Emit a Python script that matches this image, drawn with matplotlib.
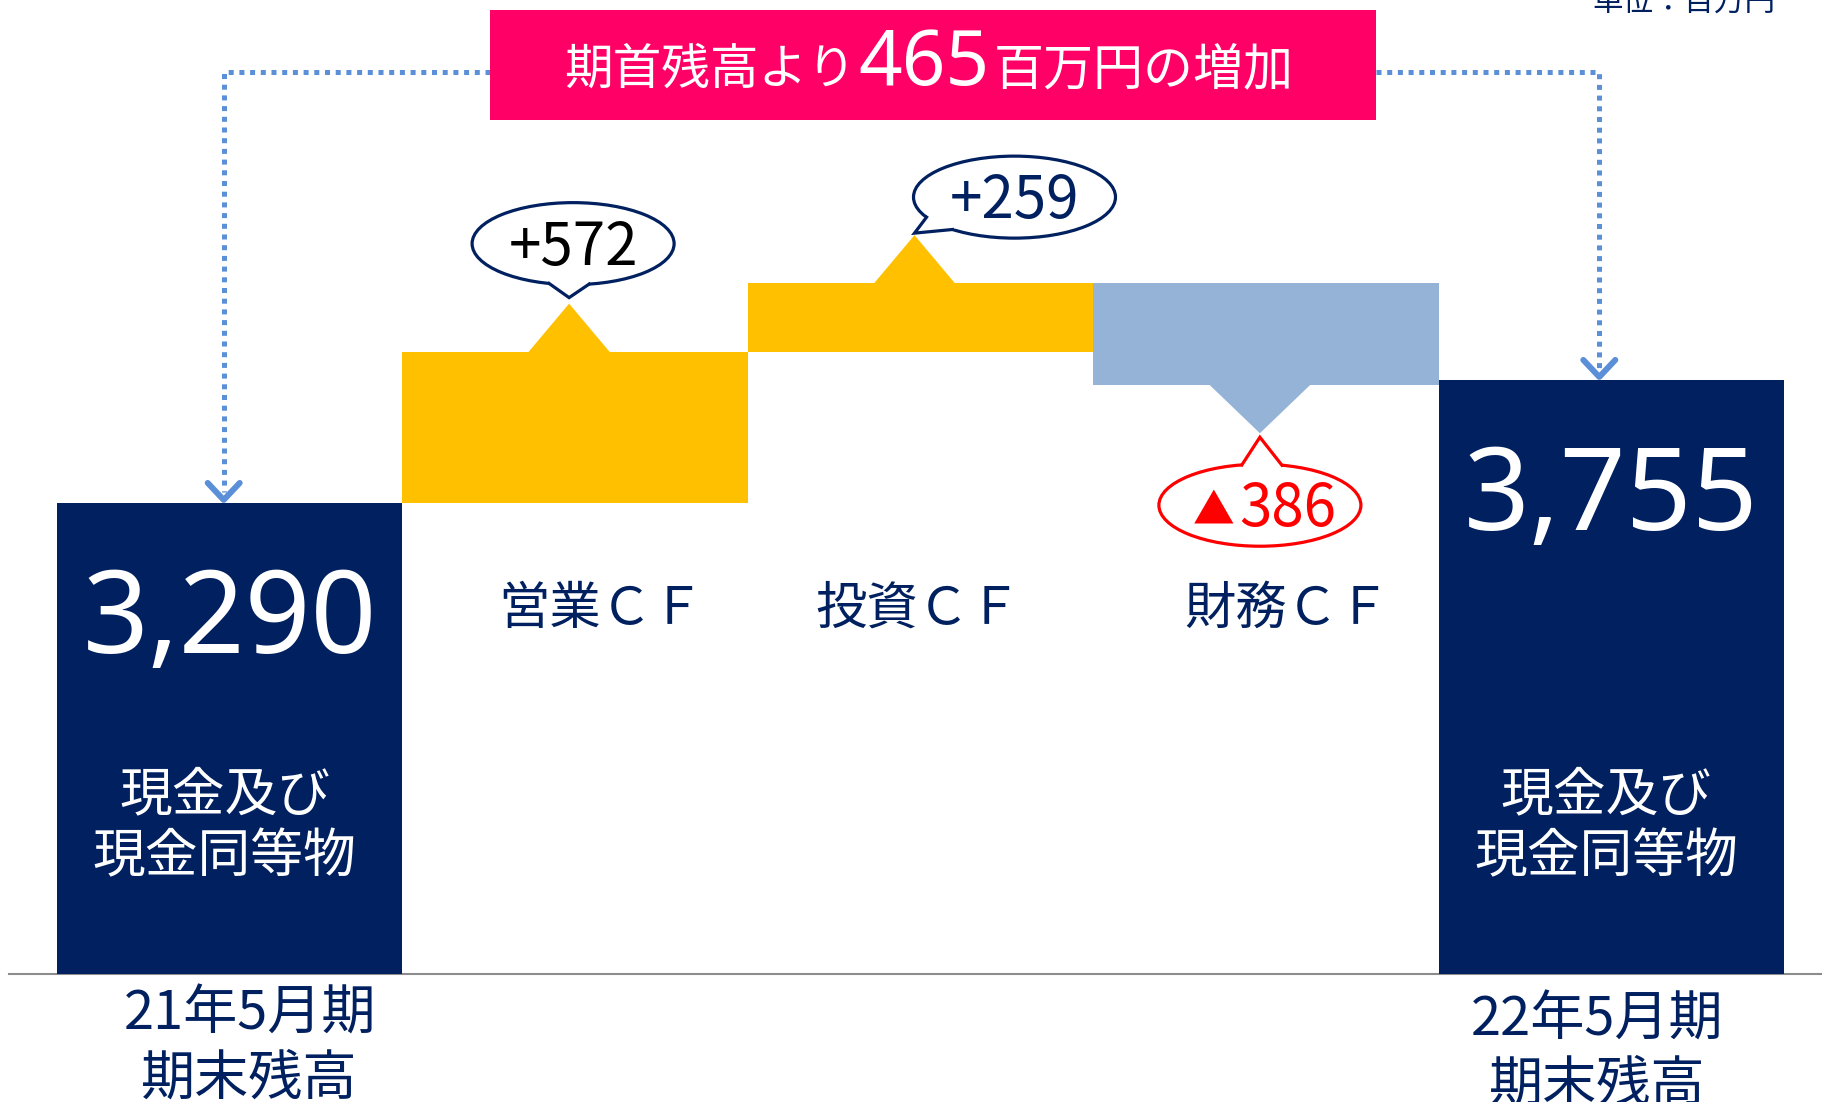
import matplotlib
matplotlib.use('Agg')
import matplotlib.pyplot as plt
from matplotlib.patches import Rectangle, Ellipse, Polygon
import numpy as np

plt.rcParams['font.family'] = ['Noto Sans CJK JP', 'DejaVu Sans']

# data (百万円)
period_labels = ['21年5月期\n期末残高', '22年5月期\n期末残高']
start_balance = 3290
end_balance = 3755
cf_labels = ['営業ＣＦ', '投資ＣＦ', '財務ＣＦ']
cf_values = [572, 259, -386]
increase = 465

NAVY = '#002060'
YELLOW = '#FFC000'
LIGHTBLUE = '#95B3D7'
PINK = '#FF0066'
DOT = '#5B8FD8'
RED = '#FF0000'

W, H = 1822, 1102
fig = plt.figure(figsize=(W / 100, H / 100), dpi=100)
ax = fig.add_axes([0, 0, 1, 1])
ax.axis('off')

# axis scale: one column = 345.4 px, value axis truncated at 1509
KX = 345.4
KY = 0.2645
FLOOR = 1509
BASE_PX = 974


def px2x(p):
    return -0.5 + (p - 57) / KX


def px2y(p):
    return FLOOR + (BASE_PX - p) / KY


def x2px(x):
    return 57 + (x + 0.5) * KX


def y2px(y):
    return BASE_PX - (y - FLOOR) * KY


ax.set_xlim(px2x(0), px2x(W))
ax.set_ylim(px2y(H), px2y(0))

# baseline
ax.plot([px2x(9), px2x(W)], [FLOOR, FLOOR], color='#8C8C8C', lw=1.5, zorder=1)

# balance bars
ax.bar([0, 4], [start_balance - FLOOR, end_balance - FLOOR], bottom=FLOOR,
       width=1.0, color=NAVY, zorder=2)

# cash flow bars
levels = start_balance + np.concatenate([[0], np.cumsum(cf_values)])
cf_colors = [YELLOW if v > 0 else LIGHTBLUE for v in cf_values]
ax.bar(np.arange(1, 4), cf_values, bottom=levels[:-1], width=1.0,
       color=cf_colors, zorder=2)

TRI_W, TRI_H = 84, 48
A, B = 101, 41


def callout(cx, cy, tip, bases, side, value, tcolor, ecolor):
    ax.add_patch(Ellipse((px2x(cx), px2y(cy)), 2 * A / KX, 2 * B / KY,
                         facecolor='white', edgecolor=ecolor, lw=2.3, zorder=5))
    pts = []
    for bx in bases:
        by = cy + side * B * np.sqrt(1 - (bx / A) ** 2)
        pts.append((cx + bx, by))
    inner = [(cx + 0.8 * (p[0] - cx), cy + 0.8 * (p[1] - cy)) for p in pts]
    poly = [inner[0], pts[0], tip, pts[1], inner[1]]
    ax.add_patch(Polygon([(px2x(a), px2y(b)) for a, b in poly],
                         closed=True, facecolor='white', edgecolor='none', zorder=6))
    line = [pts[0], tip, pts[1]]
    ax.plot([px2x(a) for a, b in line], [px2y(b) for a, b in line],
            color=ecolor, lw=2.3, zorder=7, solid_joinstyle='miter')
    if value > 0:
        ax.text(px2x(cx), px2y(cy + 21), '+{:,}'.format(value), ha='center',
                va='baseline', fontsize=42, color=tcolor, zorder=8)
    else:
        ax.text(px2x(cx - 26), px2y(cy + 18), '▲', ha='right', va='baseline',
                fontsize=30, color=tcolor, zorder=8)
        ax.text(px2x(cx - 21), px2y(cy + 21), '{:,}'.format(-value), ha='left',
                va='baseline', fontsize=42, color=tcolor, zorder=8)


callout_cfg = [
    # dx, dy, tip_dy, bases, side, text color, edge color
    (4, -60, -6, (-24, 16), 1, 'black', NAVY),
    (100, -38, -2, (-88, -62), 1, NAVY, NAVY),
    (0, 72, 4, (-18, 22), -1, RED, RED),
]

for i, v in enumerate(cf_values):
    xc = x2px(i + 1) - 6
    edge = y2px(levels[i + 1])
    if v > 0:
        apex = edge - TRI_H
        tri = [(xc - TRI_W / 2, edge + 2), (xc + TRI_W / 2, edge + 2), (xc, apex)]
    else:
        apex = edge + TRI_H
        tri = [(xc - TRI_W * 0.62, edge - 2), (xc + TRI_W * 0.62, edge - 2), (xc, apex)]
    ax.add_patch(Polygon([(px2x(a), px2y(b)) for a, b in tri], closed=True,
                         facecolor=cf_colors[i], edgecolor='none', zorder=2))
    dx, dy, tdy, bases, side, tc, ec = callout_cfg[i]
    callout(xc + dx, apex + dy, (xc, apex + tdy), bases, side, v, tc, ec)

# category labels
for lx, lab in zip([601, 918, 1287], cf_labels):
    ax.text(px2x(lx), px2y(624), lab, ha='center', va='baseline',
            fontsize=37, color=NAVY, zorder=4)

# balance values and descriptions inside the navy bars
for col, val in zip([0, 4], [start_balance, end_balance]):
    top = y2px(val)
    ax.text(col, px2y(top + 150), '{:,}'.format(val), ha='center', va='baseline',
            fontsize=83, color='white', family='Noto Sans', zorder=4)
    ax.text(col - 0.015, px2y(810), '現金及び', ha='center', va='baseline',
            fontsize=38, color='white', zorder=4)
    ax.text(col - 0.015, px2y(872), '現金同等物', ha='center', va='baseline',
            fontsize=38, color='white', zorder=4)

# period labels under the axis
for col, off, (l1, l2), y1 in zip([0, 4], [20, -14],
                                  [p.split('\n') for p in period_labels], [1030, 1036]):
    xp = x2px(col) + off
    ax.text(px2x(xp), px2y(y1), l1, ha='center', va='baseline',
            fontsize=39, color=NAVY)
    ax.text(px2x(xp), px2y(y1 + 65), l2, ha='center', va='baseline',
            fontsize=39, color=NAVY)

# header box
BOX_L, BOX_R, BOX_T, BOX_B = 490, 1376, 10, 120
ax.add_patch(Rectangle((px2x(BOX_L), px2y(BOX_B)), (BOX_R - BOX_L) / KX,
                       (BOX_B - BOX_T) / KY, facecolor=PINK, edgecolor='none', zorder=6))
ax.text(px2x(856), px2y(84), '期首残高より', ha='right', va='baseline',
        fontsize=35, color='white', zorder=7)
ax.text(px2x(924), px2y(85), str(increase), ha='center', va='baseline',
        fontsize=55, color='white', family='Noto Sans', zorder=7)
ax.text(px2x(994), px2y(84), '百万円の増加', ha='left', va='baseline',
        fontsize=36, color='white', zorder=7)

# dotted connectors
LINE_Y = 72
for col, val, off, side_x in [(0, start_balance, -6, BOX_L), (4, end_balance, -12, BOX_R)]:
    xp = x2px(col) + off
    tip = y2px(val) - 3
    ax.plot([px2x(side_x), px2x(xp), px2x(xp)], [px2y(LINE_Y), px2y(LINE_Y), px2y(tip - 8)],
            color=DOT, lw=3.6, linestyle=(0, (1, 1.14)), zorder=3)
    ax.plot([px2x(xp - 16), px2x(xp), px2x(xp + 16)], [px2y(tip - 17), px2y(tip), px2y(tip - 17)],
            color=DOT, lw=4.3, solid_capstyle='round', solid_joinstyle='round', zorder=3)

# unit
ax.text(px2x(1775), px2y(12), '単位：百万円', ha='right', va='baseline',
        fontsize=22, color=NAVY)

fig.savefig('out.png', dpi=100)
